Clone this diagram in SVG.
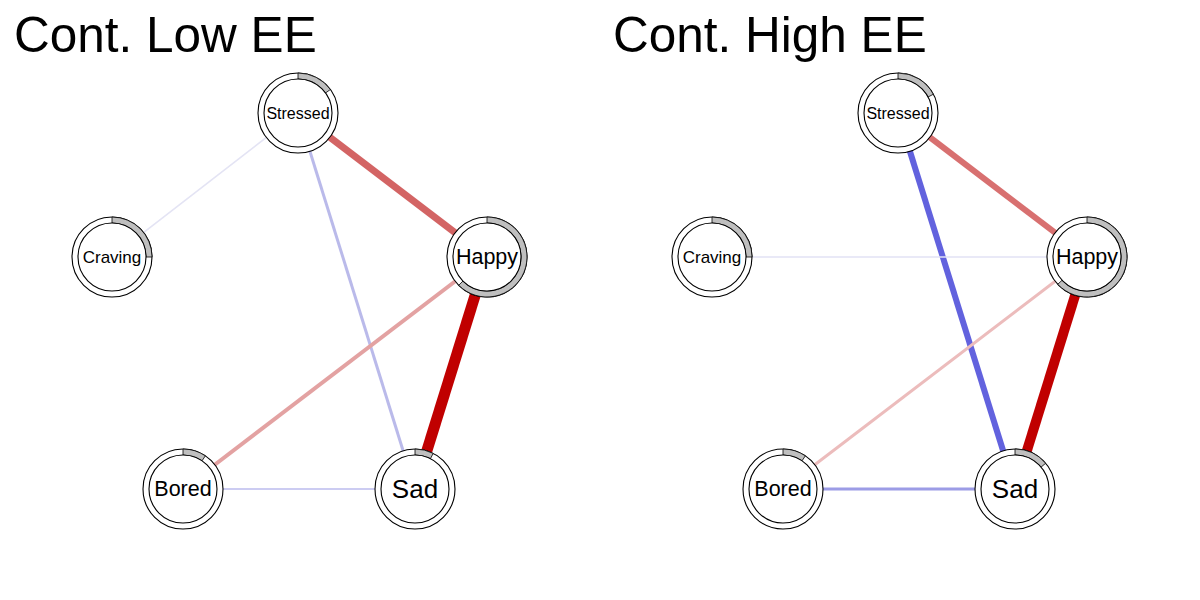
<svg xmlns="http://www.w3.org/2000/svg" width="1200" height="600" viewBox="0 0 1200 600">
<style>
.title{font-family:"Liberation Sans",Arial,sans-serif;font-size:49.5px;fill:#000}
.lbl{font-family:"Liberation Sans",Arial,sans-serif;fill:#000;text-anchor:middle;dominant-baseline:central}
.ring{fill:#fff;stroke:#000;stroke-width:1.1}
.pie{fill:#bfbfbf;stroke:#000;stroke-width:0.8}
.e{fill:none;stroke-linecap:butt}
</style>
<rect width="1200" height="600" fill="#fff"/>
<text class="title" x="14" y="52">Cont. Low EE</text>
<text class="title" x="613" y="52">Cont. High EE</text>
<g id="edges">
<line class="e" x1="298" y1="113" x2="112" y2="257" stroke="#e4e4f4" stroke-width="1.6"/>
<line class="e" x1="298" y1="113" x2="487" y2="257" stroke="#d36464" stroke-width="7"/>
<line class="e" x1="298" y1="113" x2="415" y2="489" stroke="#babaea" stroke-width="3"/>
<line class="e" x1="487" y1="257" x2="415" y2="489" stroke="#c00000" stroke-width="11"/>
<line class="e" x1="487" y1="257" x2="183" y2="489" stroke="#e3a2a2" stroke-width="4"/>
<line class="e" x1="183" y1="489" x2="415" y2="489" stroke="#ccccf2" stroke-width="2"/>
<line class="e" x1="898" y1="113" x2="1087" y2="257" stroke="#d87070" stroke-width="6"/>
<line class="e" x1="898" y1="113" x2="1015" y2="489" stroke="#6262de" stroke-width="6"/>
<line class="e" x1="712" y1="257" x2="1087" y2="257" stroke="#e2e2f5" stroke-width="1.6"/>
<line class="e" x1="1087" y1="257" x2="1015" y2="489" stroke="#c00000" stroke-width="10"/>
<line class="e" x1="1087" y1="257" x2="783" y2="489" stroke="#ecbcbc" stroke-width="3"/>
<line class="e" x1="783" y1="489" x2="1015" y2="489" stroke="#9c9ce6" stroke-width="3"/>
</g>
<g id="L_Stressed">
<circle class="ring" cx="298" cy="113" r="40"/>
<path class="pie" d="M298,73 A40,40 0 0 1 330.36,89.49 L325.51,93.01 A34,34 0 0 0 298,79 Z"/>
<circle class="ring" cx="298" cy="113" r="34"/>
<text class="lbl" x="298" y="113" font-size="16">Stressed</text>
</g>
<g id="L_Craving">
<circle class="ring" cx="112" cy="257" r="40"/>
<path class="pie" d="M112,217 A40,40 0 0 1 152,257 L146,257 A34,34 0 0 0 112,223 Z"/>
<circle class="ring" cx="112" cy="257" r="34"/>
<text class="lbl" x="112" y="257" font-size="17">Craving</text>
</g>
<g id="L_Happy">
<circle class="ring" cx="487" cy="257" r="40"/>
<path class="pie" d="M487,217 A40,40 0 1 1 458.72,285.28 L462.96,281.04 A34,34 0 1 0 487,223 Z"/>
<circle class="ring" cx="487" cy="257" r="34"/>
<text class="lbl" x="487" y="257" font-size="21.5">Happy</text>
</g>
<g id="L_Bored">
<circle class="ring" cx="183" cy="489" r="40"/>
<path class="pie" d="M183,449 A40,40 0 0 1 205.37,455.84 L202.01,460.81 A34,34 0 0 0 183,455 Z"/>
<circle class="ring" cx="183" cy="489" r="34"/>
<text class="lbl" x="183" y="489" font-size="21.5">Bored</text>
</g>
<g id="L_Sad">
<circle class="ring" cx="415" cy="489" r="40"/>
<path class="pie" d="M415,449 A40,40 0 0 1 433.16,453.36 L430.44,458.71 A34,34 0 0 0 415,455 Z"/>
<circle class="ring" cx="415" cy="489" r="34"/>
<text class="lbl" x="415" y="489" font-size="26">Sad</text>
</g>
<g id="R_Stressed">
<circle class="ring" cx="898" cy="113" r="40"/>
<path class="pie" d="M898,73 A40,40 0 0 1 933.32,94.24 L928.02,97.04 A34,34 0 0 0 898,79 Z"/>
<circle class="ring" cx="898" cy="113" r="34"/>
<text class="lbl" x="898" y="113" font-size="16">Stressed</text>
</g>
<g id="R_Craving">
<circle class="ring" cx="712" cy="257" r="40"/>
<path class="pie" d="M712,217 A40,40 0 0 1 752,257 L746,257 A34,34 0 0 0 712,223 Z"/>
<circle class="ring" cx="712" cy="257" r="34"/>
<text class="lbl" x="712" y="257" font-size="17">Craving</text>
</g>
<g id="R_Happy">
<circle class="ring" cx="1087" cy="257" r="40"/>
<path class="pie" d="M1087,217 A40,40 0 1 1 1057.74,284.28 L1062.13,280.19 A34,34 0 1 0 1087,223 Z"/>
<circle class="ring" cx="1087" cy="257" r="34"/>
<text class="lbl" x="1087" y="257" font-size="21.5">Happy</text>
</g>
<g id="R_Bored">
<circle class="ring" cx="783" cy="489" r="40"/>
<path class="pie" d="M783,449 A40,40 0 0 1 805.37,455.84 L802.01,460.81 A34,34 0 0 0 783,455 Z"/>
<circle class="ring" cx="783" cy="489" r="34"/>
<text class="lbl" x="783" y="489" font-size="21.5">Bored</text>
</g>
<g id="R_Sad">
<circle class="ring" cx="1015" cy="489" r="40"/>
<path class="pie" d="M1015,449 A40,40 0 0 1 1045.64,463.29 L1041.04,467.14 A34,34 0 0 0 1015,455 Z"/>
<circle class="ring" cx="1015" cy="489" r="34"/>
<text class="lbl" x="1015" y="489" font-size="26">Sad</text>
</g>
</svg>
